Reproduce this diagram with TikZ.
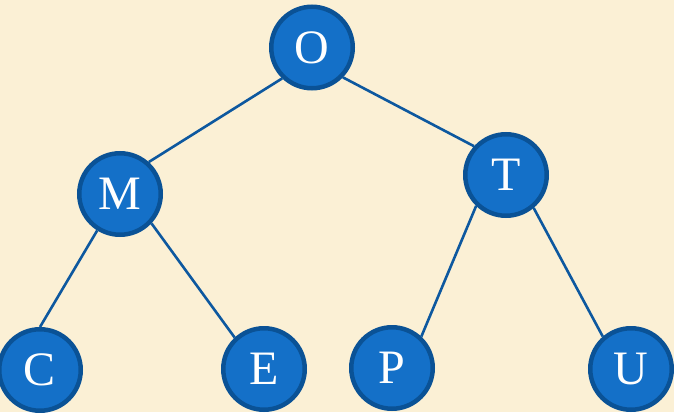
\documentclass[tikz,border=0pt]{standalone}
\usepackage{fontspec}
\setmainfont{Liberation Serif}
\definecolor{paper}{HTML}{FBF0D5}
\definecolor{nodefill}{HTML}{1470C8}
\definecolor{nodeedge}{HTML}{0A5296}
\definecolor{edgeline}{HTML}{0D589F}
\tikzset{
  treenode/.style={circle, fill=nodefill, draw=nodeedge, line width=4.5pt,
    minimum size=81.5pt, inner sep=0pt, text=white,
    font=\fontsize{48}{48}\selectfont},
  branch/.style={draw=edgeline, line width=2.6pt}
}
\begin{document}
\begin{tikzpicture}[x=1pt, y=-1pt]
  \fill[paper] (0,0) rectangle (674,412);
  \useasboundingbox (0,0) rectangle (674,412);

  \node[treenode] (O) at (312,47.5) {O};
  \node[treenode] (M) at (120,194) {M};
  \node[treenode] (T) at (506,175) {T};
  \node[treenode] (C) at (40,370) {C};
  \node[treenode] (E) at (264,369) {E};
  \node[treenode] (P) at (392,368) {P};
  \node[treenode] (U) at (631,369) {U};

  \draw[branch] (O.-134.5) -- (M.48.6);
  \draw[branch] (O.-44.5) -- (T.138.7);
  \draw[branch] (M.-122.3) -- (C.north);
  \draw[branch] (M.-43) -- (E.133);
  \draw[branch] (T.-134) -- (P.47);
  \draw[branch] (T.-50) -- (U.131);
\end{tikzpicture}
\end{document}
